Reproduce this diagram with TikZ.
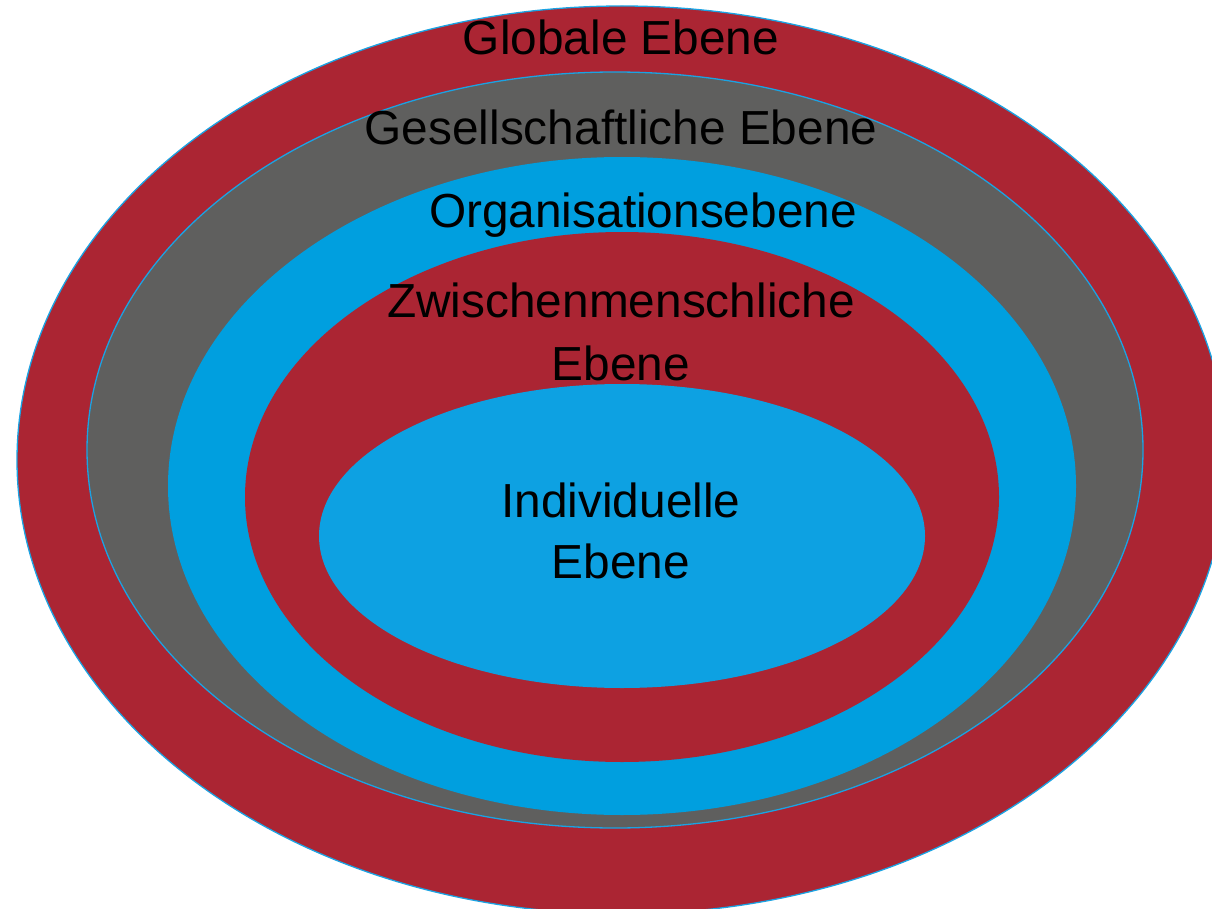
\documentclass[tikz,border=0pt]{standalone}
\usepackage{fontspec}
\setmainfont{Liberation Sans}
\definecolor{levelred}{HTML}{AB2533}
\definecolor{levelgray}{HTML}{5F5F5E}
\definecolor{levelblue}{HTML}{009FDF}
\definecolor{corelight}{HTML}{0DA1E2}
\definecolor{rimblue}{HTML}{1BA3E3}
\tikzset{
  ring/.style={line width=1.3pt},
  label/.style={anchor=base, inner sep=0pt, text=black,
    font=\fontsize{47.8}{57}\selectfont}
}
\begin{document}
\begin{tikzpicture}[x=1pt, y=-1pt]
  \useasboundingbox (0,0) rectangle (1212,909);
  \clip (0,0) rectangle (1212,909);
  % nested levels, outermost first
  \draw[ring, fill=levelred, draw=rimblue]   (622,460) ellipse [x radius=605, y radius=454];
  \draw[ring, fill=levelgray, draw=rimblue]  (615,450) ellipse [x radius=528, y radius=378];
  \fill[levelblue] (622,486) ellipse [x radius=454, y radius=329];
  \fill[levelred]  (622,497) ellipse [x radius=377, y radius=265];
  \fill[corelight] (622,536) ellipse [x radius=303, y radius=152];
  % level names
  \node[label] (global) at (621,55)  {Globale Ebene};
  \node[label] (society) at (621,145) {Gesellschaftliche Ebene};
  \node[label] (org) at (643,228) {Organisationsebene};
  \node[label] (inter1) at (621,317) {Zwischenmenschliche};
  \node[label] (inter2) at (621,380) {Ebene};
  \node[label] (indiv1) at (621,517) {Individuelle};
  \node[label] (indiv2) at (621,578) {Ebene};
\end{tikzpicture}
\end{document}
